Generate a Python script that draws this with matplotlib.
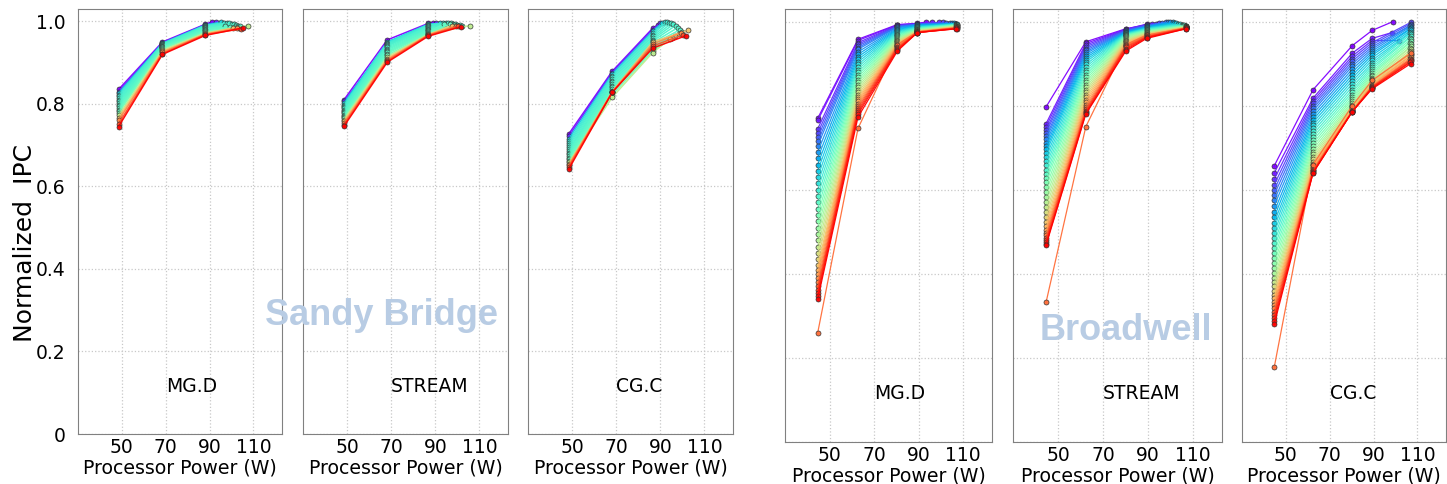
import numpy as np
import matplotlib
matplotlib.use("Agg")
from matplotlib import pyplot as plt

# ---- Sandy Bridge: power caps (W) and normalized IPC per run ----
sb_caps = {"MG.D": [48.5, 68.5, 88.0], "STREAM": [48.6, 68.2, 86.8], "CG.C": [48.6, 68.2, 86.5]}
sb_colors = [0.0, 0.06, 0.30, 0.36, 0.38, 0.39, 0.40, 0.40, 0.41, 0.42,
             0.42, 0.43, 0.44, 0.45, 0.48, 0.62, 0.72, 0.82, 0.90, 1.0]

sb_mgd_y1 = [0.835, 0.830, 0.826, 0.822, 0.818, 0.814, 0.810, 0.806, 0.802, 0.798,
             0.794, 0.790, 0.786, 0.782, 0.778, 0.772, 0.766, 0.760, 0.752, 0.745]
sb_mgd_y2 = [0.950, 0.948, 0.947, 0.946, 0.945, 0.944, 0.943, 0.942, 0.941, 0.940,
             0.939, 0.938, 0.937, 0.935, 0.933, 0.930, 0.927, 0.925, 0.922, 0.920]
sb_mgd_y3 = [0.993, 0.992, 0.991, 0.990, 0.989, 0.988, 0.987, 0.986, 0.985, 0.984,
             0.982, 0.980, 0.978, 0.976, 0.974, 0.972, 0.970, 0.969, 0.968, 0.966]
sb_mgd_lastx = [91.0, 93.0, 95.0, 96.5, 98.0, 99.0, 100.0, 101.0, 102.0, 103.0,
                104.0, 97.0, 99.5, 101.5, 103.5, 107.7, 100.5, 102.5, 104.5, 105.0]
sb_mgd_lasty = [0.999, 0.998, 0.998, 0.997, 0.996, 0.995, 0.994, 0.993, 0.992, 0.990,
                0.988, 0.989, 0.987, 0.986, 0.985, 0.990, 0.984, 0.983, 0.982, 0.984]

sb_str_y1 = [0.810, 0.806, 0.802, 0.798, 0.795, 0.792, 0.789, 0.786, 0.783, 0.780,
             0.777, 0.774, 0.771, 0.768, 0.765, 0.762, 0.758, 0.754, 0.750, 0.746]
sb_str_y2 = [0.955, 0.942, 0.950, 0.948, 0.946, 0.944, 0.942, 0.940, 0.937, 0.934,
             0.931, 0.928, 0.925, 0.922, 0.918, 0.914, 0.910, 0.907, 0.904, 0.901]
sb_str_y3 = [0.995, 0.994, 0.993, 0.992, 0.990, 0.988, 0.986, 0.984, 0.982, 0.980,
             0.978, 0.976, 0.974, 0.972, 0.970, 0.969, 0.968, 0.967, 0.966, 0.964]
sb_str_lastx = [88.8, 90.5, 92.0, 93.5, 95.0, 96.0, 97.0, 98.0, 99.0, 100.0,
                101.0, 102.0, 94.0, 96.5, 98.5, 105.7, 97.5, 99.5, 100.5, 101.5]
sb_str_lasty = [0.997, 0.996, 0.995, 0.996, 0.997, 0.996, 0.995, 0.994, 0.993, 0.992,
                0.991, 0.990, 0.994, 0.993, 0.991, 0.990, 0.990, 0.989, 0.988, 0.987]

sb_cgc_y1 = [0.728, 0.722, 0.716, 0.710, 0.705, 0.700, 0.695, 0.690, 0.686, 0.682,
             0.678, 0.674, 0.670, 0.666, 0.662, 0.658, 0.655, 0.652, 0.648, 0.643]
sb_cgc_y2 = [0.879, 0.876, 0.872, 0.868, 0.864, 0.860, 0.856, 0.852, 0.848, 0.844,
             0.840, 0.836, 0.832, 0.828, 0.822, 0.816, 0.830, 0.829, 0.828, 0.828]
sb_cgc_y3 = [0.983, 0.980, 0.976, 0.972, 0.968, 0.964, 0.960, 0.956, 0.952, 0.948,
             0.944, 0.940, 0.936, 0.932, 0.928, 0.924, 0.950, 0.945, 0.940, 0.935]
sb_cgc_lastx = [89.0, 90.0, 91.0, 92.0, 93.0, 94.0, 95.0, 96.0, 97.0, 98.0,
                99.0, 100.0, 98.5, 96.5, 95.5, 94.5, 102.4, 99.5, 100.5, 101.5]
sb_cgc_lasty = [0.992, 0.995, 0.997, 0.998, 0.999, 0.997, 0.995, 0.993, 0.990, 0.985,
                0.980, 0.975, 0.970, 0.965, 0.960, 0.958, 0.978, 0.972, 0.968, 0.965]

# ---- Broadwell ----
bdw_caps = {"MG.D": [44.7, 62.8, 80.5, 89.5], "STREAM": [44.7, 62.4, 80.2, 89.5],
            "CG.C": [44.7, 62.4, 80.3, 89.3]}

bdw_mgd_y1 = [0.770, 0.765, 0.745, 0.735, 0.725, 0.715, 0.705, 0.690, 0.675, 0.660,
              0.645, 0.630, 0.615, 0.600, 0.585, 0.570, 0.555, 0.540, 0.525, 0.510,
              0.495, 0.480, 0.465, 0.450, 0.435, 0.420, 0.410, 0.400, 0.390, 0.380,
              0.260, 0.370, 0.362, 0.355, 0.348, 0.340]
bdw_mgd_y2 = [0.958, 0.955, 0.950, 0.946, 0.942, 0.938, 0.934, 0.928, 0.922, 0.916,
              0.910, 0.904, 0.898, 0.892, 0.886, 0.880, 0.874, 0.868, 0.862, 0.856,
              0.850, 0.844, 0.838, 0.832, 0.826, 0.820, 0.815, 0.810, 0.805, 0.800,
              0.746, 0.795, 0.790, 0.785, 0.780, 0.773]
bdw_mgd_y3 = [0.993, 0.992, 0.991, 0.990, 0.989, 0.988, 0.987, 0.985, 0.983, 0.981,
              0.979, 0.977, 0.975, 0.973, 0.971, 0.969, 0.967, 0.965, 0.963, 0.961,
              0.959, 0.957, 0.955, 0.953, 0.951, 0.949, 0.947, 0.945, 0.943, 0.941,
              0.945, 0.939, 0.937, 0.935, 0.933, 0.930]
bdw_mgd_y4 = [0.996, 0.995, 0.995, 0.994, 0.994, 0.993, 0.993, 0.992, 0.991, 0.990,
              0.989, 0.988, 0.987, 0.986, 0.985, 0.984, 0.983, 0.982, 0.981, 0.980,
              0.980, 0.979, 0.978, 0.978, 0.977, 0.977, 0.976, 0.976, 0.975, 0.975,
              0.976, 0.975, 0.974, 0.974, 0.974, 0.974]
bdw_mgd_lastx = [93.5, 96.0, 99.0, 101.0, 102.5, 104.0, 105.0, 106.0, 106.5, 107.0,
                 107.0, 106.8, 107.2, 107.0, 106.8, 107.2, 107.0, 106.8, 107.2, 107.0,
                 106.8, 107.2, 107.0, 106.8, 107.2, 107.0, 106.8, 107.2, 107.0, 106.8,
                 107.0, 107.2, 107.0, 106.8, 107.2, 107.0]
bdw_mgd_lasty = [0.999, 0.999, 0.998, 0.998, 0.997, 0.997, 0.996, 0.996, 0.995, 0.995,
                 0.995, 0.994, 0.994, 0.993, 0.993, 0.992, 0.992, 0.991, 0.991, 0.990,
                 0.990, 0.989, 0.989, 0.988, 0.988, 0.987, 0.987, 0.986, 0.986, 0.985,
                 0.985, 0.985, 0.984, 0.984, 0.983, 0.983]

bdw_str_y1 = [0.797, 0.757, 0.750, 0.742, 0.735, 0.727, 0.720, 0.712, 0.704, 0.696,
              0.688, 0.678, 0.668, 0.658, 0.648, 0.638, 0.628, 0.618, 0.606, 0.594,
              0.582, 0.570, 0.558, 0.546, 0.535, 0.524, 0.514, 0.505, 0.498, 0.492,
              0.332, 0.486, 0.480, 0.475, 0.471, 0.468]
bdw_str_y2 = [0.952, 0.948, 0.944, 0.940, 0.936, 0.932, 0.928, 0.924, 0.919, 0.914,
              0.909, 0.904, 0.898, 0.892, 0.886, 0.880, 0.874, 0.868, 0.862, 0.856,
              0.850, 0.844, 0.838, 0.832, 0.826, 0.820, 0.814, 0.808, 0.802, 0.797,
              0.750, 0.792, 0.788, 0.785, 0.782, 0.780]
bdw_str_y3 = [0.983, 0.982, 0.981, 0.980, 0.979, 0.978, 0.977, 0.976, 0.975, 0.974,
              0.973, 0.972, 0.971, 0.970, 0.969, 0.968, 0.967, 0.966, 0.965, 0.963,
              0.961, 0.959, 0.957, 0.955, 0.953, 0.951, 0.949, 0.947, 0.945, 0.943,
              0.945, 0.941, 0.939, 0.936, 0.933, 0.930]
bdw_str_y4 = [0.995, 0.994, 0.993, 0.992, 0.991, 0.990, 0.989, 0.988, 0.987, 0.986,
              0.985, 0.984, 0.983, 0.982, 0.981, 0.980, 0.979, 0.978, 0.977, 0.976,
              0.975, 0.974, 0.973, 0.972, 0.971, 0.970, 0.969, 0.968, 0.967, 0.966,
              0.968, 0.965, 0.964, 0.963, 0.962, 0.960]
bdw_str_lastx = [90.0, 92.0, 93.5, 95.0, 96.5, 98.0, 99.0, 100.0, 101.0, 101.5,
                 102.5, 103.5, 104.5, 105.0, 105.5, 106.0, 106.5, 107.0, 107.0, 106.8,
                 107.2, 107.0, 106.8, 107.2, 107.0, 106.8, 107.2, 107.0, 106.8, 107.2,
                 107.0, 107.0, 106.8, 107.2, 107.0, 107.0]
bdw_str_lasty = [0.993, 0.994, 0.995, 0.996, 0.997, 0.998, 0.999, 0.999, 0.998, 0.997,
                 0.996, 0.995, 0.994, 0.993, 0.992, 0.991, 0.990, 0.990, 0.989, 0.989,
                 0.988, 0.988, 0.987, 0.987, 0.986, 0.986, 0.986, 0.985, 0.985, 0.985,
                 0.985, 0.984, 0.984, 0.984, 0.983, 0.983]

bdw_cgc_y1 = [0.657, 0.640, 0.625, 0.612, 0.600, 0.588, 0.575, 0.562, 0.548, 0.535,
              0.522, 0.510, 0.498, 0.486, 0.474, 0.462, 0.450, 0.438, 0.426, 0.414,
              0.402, 0.390, 0.380, 0.370, 0.360, 0.350, 0.342, 0.334, 0.326, 0.318,
              0.178, 0.310, 0.302, 0.295, 0.288, 0.280]
bdw_cgc_y2 = [0.838, 0.818, 0.812, 0.806, 0.800, 0.794, 0.788, 0.781, 0.774, 0.767,
              0.760, 0.753, 0.746, 0.739, 0.732, 0.725, 0.718, 0.711, 0.704, 0.697,
              0.690, 0.684, 0.678, 0.672, 0.667, 0.662, 0.658, 0.654, 0.651, 0.648,
              0.660, 0.646, 0.644, 0.642, 0.641, 0.640]
bdw_cgc_y3 = [0.943, 0.925, 0.918, 0.912, 0.906, 0.900, 0.894, 0.887, 0.880, 0.873,
              0.866, 0.859, 0.852, 0.845, 0.838, 0.832, 0.826, 0.820, 0.815, 0.810,
              0.806, 0.802, 0.799, 0.796, 0.794, 0.792, 0.790, 0.789, 0.788, 0.787,
              0.800, 0.787, 0.786, 0.786, 0.786, 0.786]
bdw_cgc_y4 = [0.979, 0.960, 0.955, 0.950, 0.945, 0.940, 0.935, 0.930, 0.925, 0.920,
              0.914, 0.908, 0.902, 0.897, 0.892, 0.887, 0.882, 0.878, 0.874, 0.870,
              0.866, 0.863, 0.860, 0.857, 0.855, 0.853, 0.851, 0.849, 0.847, 0.846,
              0.860, 0.845, 0.844, 0.843, 0.842, 0.840]
bdw_cgc_lastx = [98.8, 98.4, 101.5, 106.9, 106.9, 107.1, 106.7, 106.9, 107.1, 106.7,
                 106.9, 107.1, 106.7, 106.9, 107.1, 106.7, 106.9, 107.1, 106.7, 106.9,
                 107.1, 106.7, 106.9, 107.1, 106.7, 106.9, 107.1, 106.7, 106.9, 107.1,
                 106.9, 106.7, 106.9, 107.1, 106.7, 106.9]
bdw_cgc_lasty = [1.000, 0.974, 0.955, 0.998, 0.995, 0.992, 0.990, 0.988, 0.985, 0.982,
                 0.979, 0.976, 0.973, 0.970, 0.966, 0.962, 0.958, 0.954, 0.950, 0.946,
                 0.942, 0.938, 0.934, 0.930, 0.927, 0.924, 0.921, 0.918, 0.915, 0.912,
                 0.925, 0.910, 0.908, 0.906, 0.903, 0.900]

x_ticks = [50, 70, 90, 110]
y_ticks = [0, 0.2, 0.4, 0.6, 0.8, 1.0]
y_ticklabels = ["0", "0.2", "0.4", "0.6", "0.8", "1.0"]

cmap = plt.get_cmap("rainbow")
W, H = 1447, 484
fig = plt.figure(figsize=(W / 100, H / 100), dpi=100)


def make_ax(left, right, top, bottom):
    return fig.add_axes([left / W, (H - bottom) / H, (right - left) / W, (bottom - top) / H])


def draw_panel(ax, name, caps, ys, lastx, lasty, colors, first, lw):
    for i in range(len(lastx)):
        xs = [c for c in caps if c < lastx[i] - 1.0]
        yy = [ys[k][i] for k in range(len(xs))]
        xs.append(lastx[i])
        yy.append(lasty[i])
        ax.plot(xs, yy, "-o", color=cmap(colors[i]), lw=lw, ms=3.6,
                mfc=cmap(colors[i]), mec="#303030", mew=0.5, alpha=0.95)
    ax.set_xlim(30, 123)
    ax.set_ylim(0, 1.03)
    ax.set_xticks(x_ticks)
    ax.set_yticks(y_ticks)
    ax.grid(True, color="#c8c8c8", ls=":", lw=0.9)
    ax.set_axisbelow(True)
    for s in ax.spines.values():
        s.set_color("#808080")
    ax.tick_params(length=0, labelsize=13.5)
    ax.tick_params(axis="x", pad=3)
    if first:
        ax.set_yticklabels(y_ticklabels)
        ax.tick_params(axis="y", pad=9)
    else:
        ax.tick_params(axis="y", labelleft=False)
    ax.set_xlabel("Processor Power (W)", fontsize=13.6, labelpad=1)
    ax.text(70, 0.115, name, fontsize=13.5, ha="left", va="center")


sb_x = [(78, 282), (303, 508), (528, 733)]
sb_data = [("MG.D", [sb_mgd_y1, sb_mgd_y2, sb_mgd_y3], sb_mgd_lastx, sb_mgd_lasty),
           ("STREAM", [sb_str_y1, sb_str_y2, sb_str_y3], sb_str_lastx, sb_str_lasty),
           ("CG.C", [sb_cgc_y1, sb_cgc_y2, sb_cgc_y3], sb_cgc_lastx, sb_cgc_lasty)]
for j, (name, ys, lx, ly) in enumerate(sb_data):
    ax = make_ax(sb_x[j][0], sb_x[j][1], 9, 434)
    draw_panel(ax, name, sb_caps[name], ys, lx, ly, sb_colors, j == 0, 1.1)

bdw_x = [(785, 992), (1013, 1222), (1242, 1446)]
bdw_data = [("MG.D", [bdw_mgd_y1, bdw_mgd_y2, bdw_mgd_y3, bdw_mgd_y4], bdw_mgd_lastx, bdw_mgd_lasty),
            ("STREAM", [bdw_str_y1, bdw_str_y2, bdw_str_y3, bdw_str_y4], bdw_str_lastx, bdw_str_lasty),
            ("CG.C", [bdw_cgc_y1, bdw_cgc_y2, bdw_cgc_y3, bdw_cgc_y4], bdw_cgc_lastx, bdw_cgc_lasty)]
for j, (name, ys, lx, ly) in enumerate(bdw_data):
    ax = make_ax(bdw_x[j][0], bdw_x[j][1], 9, 442)
    n = len(lx)
    colors = [i / (n - 1) for i in range(n)]
    draw_panel(ax, name, bdw_caps[name], ys, lx, ly, colors, False, 0.9)

fig.text(25 / W, 0.497, "Normalized  IPC", rotation=90, fontsize=18, ha="center", va="center")
fig.text(381.5 / W, (H - 325) / H, "Sandy Bridge", fontsize=26, fontweight="bold",
         family="Liberation Sans", color="#b8cce4", ha="center", va="baseline", zorder=10)
fig.text(1125.5 / W, (H - 340) / H, "Broadwell", fontsize=26, fontweight="bold",
         family="Liberation Sans", color="#b8cce4", ha="center", va="baseline", zorder=10)

fig.savefig("out.png", dpi=100)
